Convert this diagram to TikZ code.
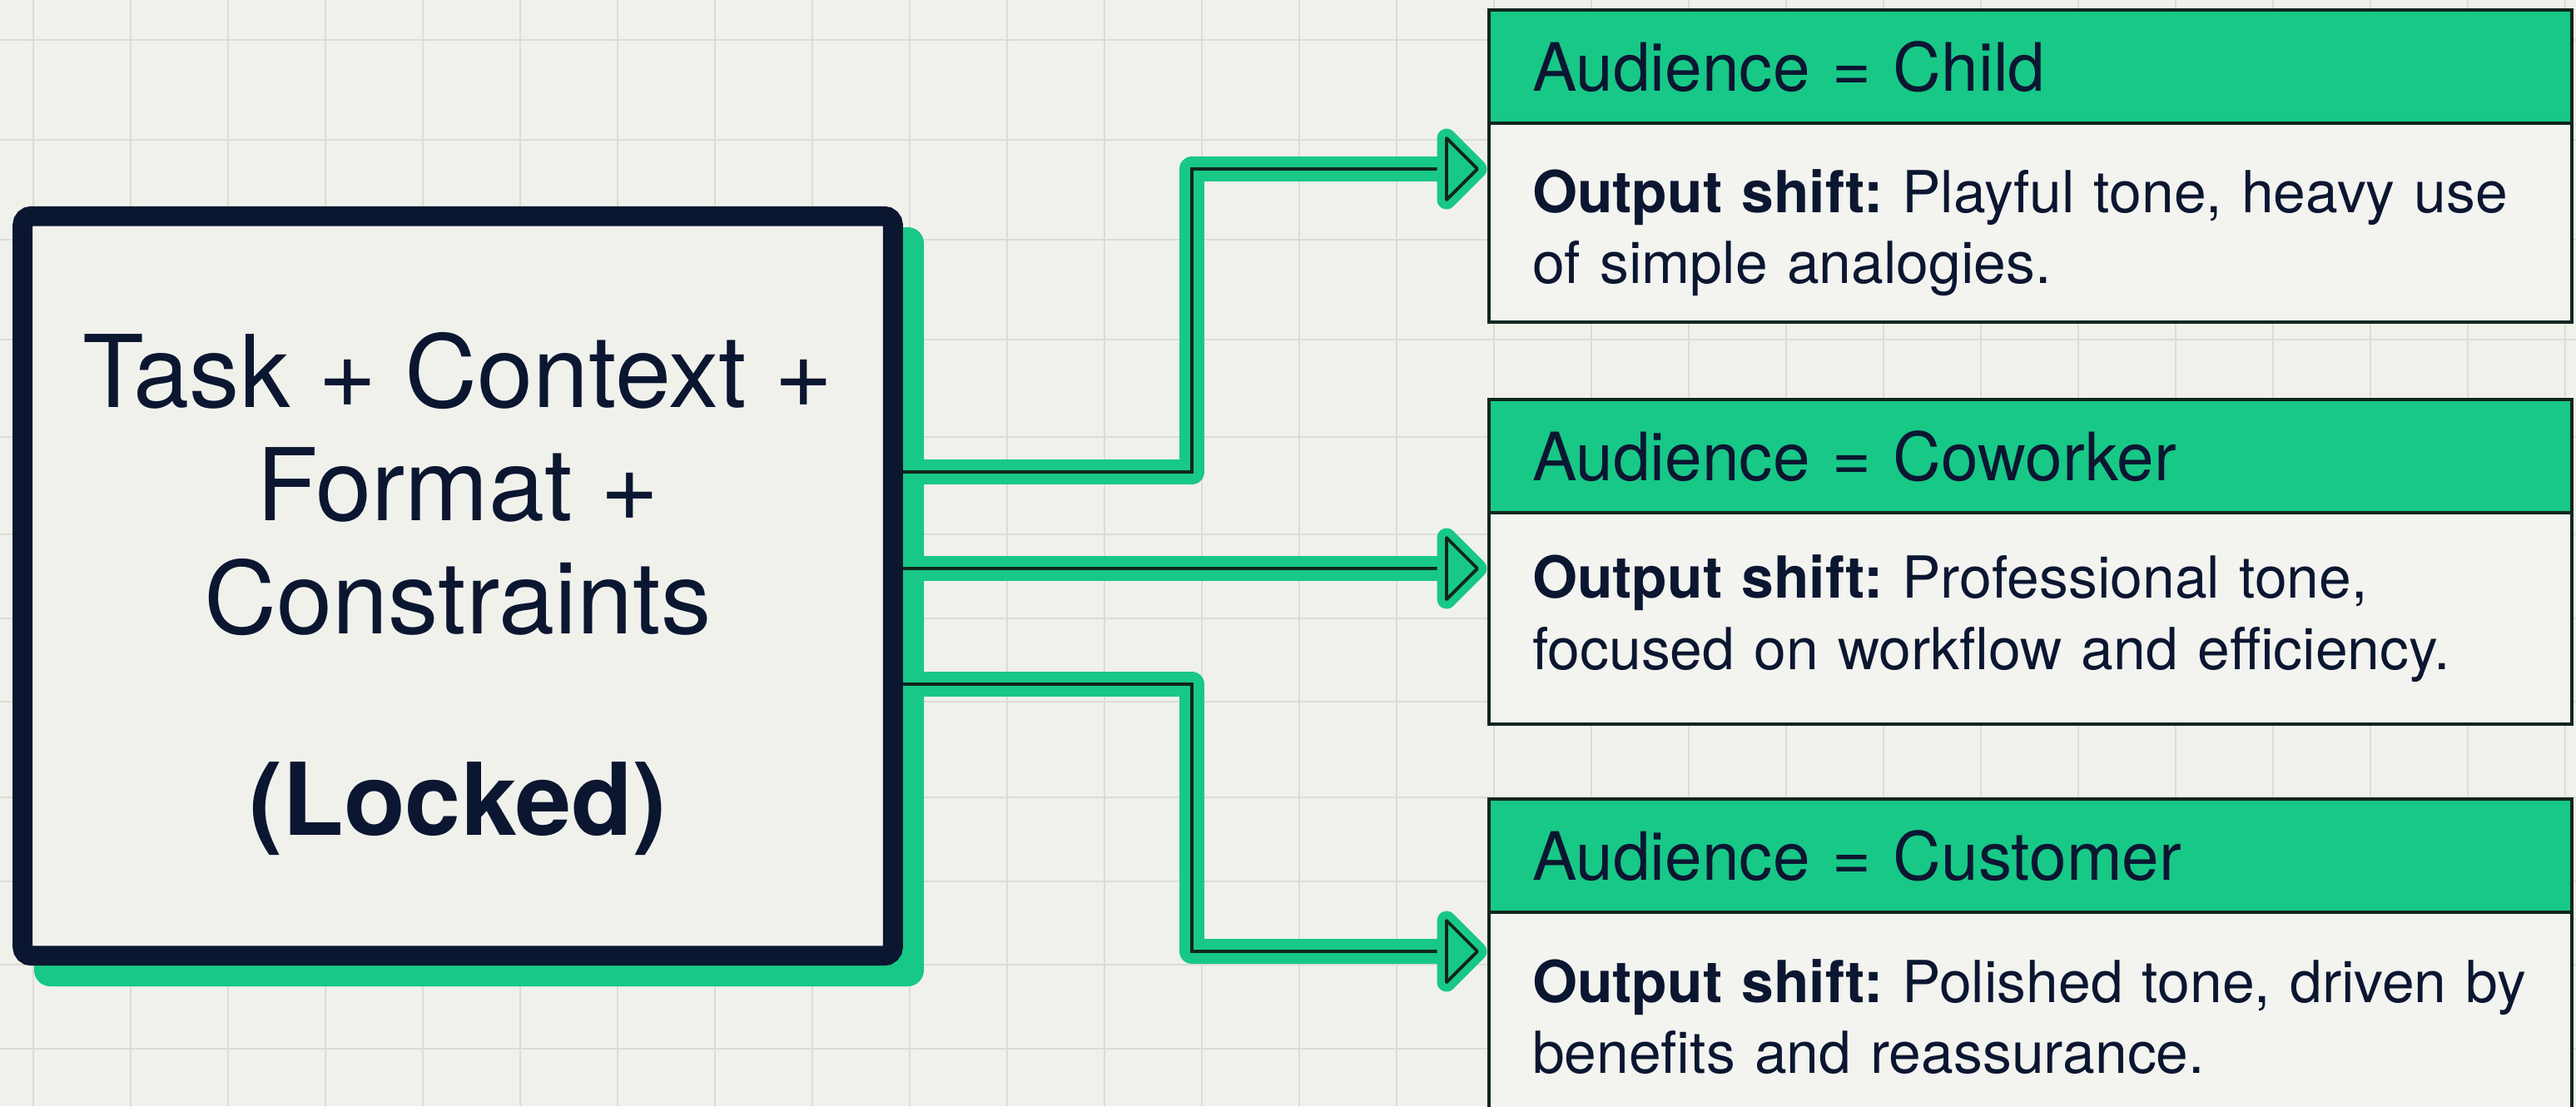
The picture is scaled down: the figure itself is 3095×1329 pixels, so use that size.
\documentclass[tikz,border=0pt]{standalone}
\usepackage{fontspec}
\setmainfont{TeX Gyre Heros}
\usetikzlibrary{positioning}
\definecolor{paper}{HTML}{F1F1EC}
\definecolor{gridgray}{HTML}{DCDCD6}
\definecolor{mint}{RGB}{24,200,135}
\definecolor{navy}{HTML}{0B1631}
\definecolor{inkgreen}{HTML}{10261F}
\definecolor{cardfill}{HTML}{F3F3EF}
\frenchspacing

\begin{document}
\begin{tikzpicture}[x=0.01cm, y=-0.01cm,
    gridline/.style={draw=gridgray, line width=0.8pt},
    lockbox/.style={draw=navy, fill=paper, line width=6.8pt, rounded corners=3pt,
      minimum width=10.45cm, minimum height=8.88cm, align=center,
      font=\fontsize{34.3pt}{38.7pt}\selectfont, text=navy},
    cardhead/.style={draw=inkgreen, fill=mint, line width=1.2pt, outer sep=0pt,
      inner xsep=0.52cm, text width=11.96cm, minimum height=1.36cm, anchor=north west,
      align=left, font=\fontsize{22.8pt}{27pt}\selectfont, text=navy},
    cardbody/.style={draw=inkgreen, fill=cardfill, line width=1.2pt, outer sep=0pt,
      inner xsep=0.52cm, text width=11.96cm, align=left,
      font=\fontsize{19.8pt}{24.2pt}\selectfont, text=navy},
    flow/.style={draw=inkgreen, line width=1.4pt,
      preaction={draw=mint, line width=8.5pt, line join=round}},
    arrowhead/.style={fill=mint, draw=mint, line width=6.5pt, line join=round,
      postaction={draw=inkgreen, line width=1.1pt}}
  ]
  % paper and grid
  \fill[paper] (0,0) rectangle (3095,1329);
  \useasboundingbox (0,0) rectangle (3095,1329);
  \foreach \gx in {0,...,26}
    \draw[gridline] ({40+117*\gx},0) -- ({40+117*\gx},1329);
  \foreach \gy in {48,168,288,408,525,642,743,843,958,1059,1159,1260}
    \draw[gridline] (0,\gy) -- (3095,\gy);

  % locked prompt block with its offset shadow
  \fill[mint, rounded corners=5.5pt] (41,273) rectangle (1110,1185);
  \node[lockbox] (locked) at (550,704)
    {\rule{0pt}{31pt}Task + Context +\\Format +\\Constraints\\[30pt]\textbf{(Locked)}};

  % audience cards
  \node[cardhead] (childhead) at (1789,12) {Audience = Child};
  \node[cardbody, minimum height=2.39cm, below=0pt of childhead] (childbody)
    {\rule{0pt}{21.5pt}\textbf{Output shift:} Playful tone, heavy use\\of simple analogies.};
  \node[cardhead] (coworkerhead) at (1789,480) {Audience = Coworker};
  \node[cardbody, minimum height=2.54cm, below=0pt of coworkerhead] (coworkerbody)
    {\textbf{Output shift:} Professional tone,\\focused on workflow and efficiency.};
  \node[cardhead] (customerhead) at (1789,960) {Audience = Customer};
  \node[cardbody, minimum height=2.5cm, below=0pt of customerhead] (customerbody)
    {\textbf{Output shift:} Polished tone, driven by\\benefits and reassurance.};

  % connectors
  \coordinate (fork) at (1432,683);
  \coordinate (childtip) at (1775,203);
  \coordinate (coworkertip) at (1775,683);
  \coordinate (customertip) at (1775,1143);

  \draw[flow] (locked.east |- 0,567) -| (fork |- childtip) -- ([xshift=-0.3cm]childtip);
  \draw[flow] (locked.east |- coworkertip) -- ([xshift=-0.3cm]coworkertip);
  \draw[flow] (locked.east |- 0,822) -| (fork |- customertip) -- ([xshift=-0.3cm]customertip);
  \foreach \tip in {childtip,coworkertip,customertip}
    \draw[arrowhead] (\tip) -- ++(-37,-37) -- ++(0,74) -- cycle;
\end{tikzpicture}
\end{document}
